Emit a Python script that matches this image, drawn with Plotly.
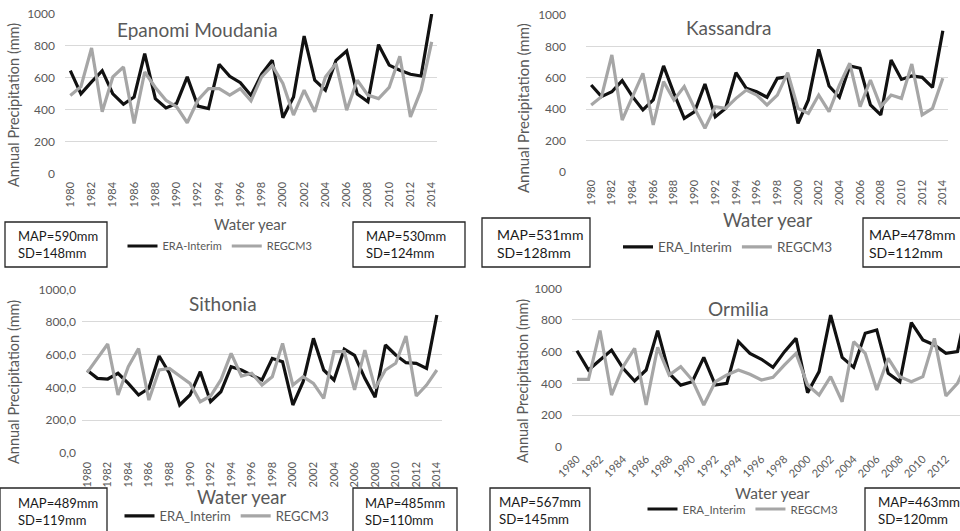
import plotly.graph_objects as go

W, H = 960, 531

years = list(range(1980, 2015))

epanomi_era = [645, 500, 575, 645, 500, 435, 480, 752, 470, 412, 440, 606, 423, 408, 685, 610, 570, 490, 623, 710,
               350, 480, 862, 585, 523, 710, 768, 498, 450, 808, 680, 648, 623, 612, 1000]
epanomi_reg = [490, 545, 787, 388, 606, 668, 315, 637, 540, 460, 419, 319, 460, 533, 533, 492, 533, 456, 606, 677,
               565, 367, 523, 388, 606, 690, 398, 585, 492, 470, 540, 735, 356, 523, 825]

kassandra_era = [553, 479, 510, 581, 479, 394, 458, 675, 500, 340, 383, 560, 351, 404, 632, 532, 510, 475, 596, 606,
                 309, 458, 781, 547, 475, 675, 660, 426, 362, 713, 589, 611, 602, 538, 900]
kassandra_reg = [426, 479, 745, 330, 479, 628, 298, 575, 458, 543, 404, 277, 415, 404, 468, 521, 489, 426, 489, 632,
                 404, 372, 489, 383, 553, 692, 415, 585, 415, 489, 468, 687, 362, 404, 596]

sithonia_era = [505, 455, 451, 486, 424, 353, 394, 592, 486, 292, 353, 496, 312, 373, 526, 506, 475, 445, 577, 557,
                292, 435, 700, 506, 445, 634, 596, 455, 339, 659, 598, 551, 547, 516, 843]
sithonia_reg = [490, 577, 665, 353, 526, 638, 322, 506, 516, 469, 424, 312, 347, 445, 608, 469, 486, 414, 465, 669,
                414, 465, 424, 333, 618, 618, 384, 628, 394, 506, 547, 714, 347, 414, 506]

ormilia_era = [606, 484, 547, 610, 495, 415, 484, 733, 463, 389, 410, 564, 389, 400, 663, 589, 552, 501, 600, 684,
               341, 474, 831, 564, 501, 716, 737, 463, 410, 783, 674, 642, 589, 600, 940]
ormilia_reg = [425, 425, 733, 326, 505, 621, 263, 627, 453, 505, 421, 263, 410, 453, 484, 457, 421, 438, 516, 589,
               389, 326, 442, 284, 663, 589, 358, 558, 442, 410, 442, 684, 320, 400, 560]

panel_titles = ["Epanomi Moudania", "Kassandra", "Sithonia", "Ormilia"]
era_names = ["ERA-Interim", "ERA_Interim", "ERA_Interim", "ERA_Interim"]
reg_name = "REGCM3"
era_stats = ["MAP=590mm<br>SD=148mm", "MAP=531mm<br>SD=128mm", "MAP=489mm<br>SD=119mm", "MAP=567mm<br>SD=145mm"]
reg_stats = ["MAP=530mm<br>SD=124mm", "MAP=478mm<br>SD=112mm", "MAP=485mm<br>SD=110mm", "MAP=463mm<br>SD=120mm"]

y_tickvals = [0, 200, 400, 600, 800, 1000]
y_ticktext_int = ["0", "200", "400", "600", "800", "1000"]
y_ticktext_dec = ["0,0", "200,0", "400,0", "600,0", "800,0", "1000,0"]
x_tickvals = list(range(1980, 2015, 2))

y_title = "Annual Precipitation (mm)"
x_title = "Water year"

era_data = [epanomi_era, kassandra_era, sithonia_era, ormilia_era]
reg_data = [epanomi_reg, kassandra_reg, sithonia_reg, ormilia_reg]

BLACK = "#111111"
GRAY = "#a6a6a6"
TXT = "#595959"
FONT = "Lato"


def px_x(x):
    return x / W


def px_y(y):
    return 1 - y / H


# layout geometry (pixels): plot-area left/right/top/bottom
geo = [
    dict(l=65, r=437, t=14, b=173.7, xr=[1979.5, 2014.5], tickangle=-90, ytt=y_ticktext_int,
         ystand=9, xstand=5),
    dict(l=586, r=948, t=15, b=171.7, xr=[1979.5, 2014.5], tickangle=-90, ytt=y_ticktext_int,
         ystand=19, xstand=5),
    dict(l=82, r=442, t=289.3, b=452.7, xr=[1979.5, 2014.5], tickangle=-90, ytt=y_ticktext_dec,
         ystand=5, xstand=6),
    dict(l=572, r=960, t=288.3, b=446.7, xr=[1979.57, 2013.22], tickangle=-45, ytt=y_ticktext_int,
         ystand=9, xstand=3),
]

fig = go.Figure()
legend_ids = ["legend", "legend2", "legend3", "legend4"]
for i in range(4):
    ax = "" if i == 0 else str(i + 1)
    fig.add_trace(go.Scatter(x=years, y=era_data[i], mode="lines", name=era_names[i],
                             line=dict(color=BLACK, width=3.2), xaxis="x" + ax, yaxis="y" + ax,
                             legend=legend_ids[i], cliponaxis=True))
    fig.add_trace(go.Scatter(x=years, y=reg_data[i], mode="lines", name=reg_name,
                             line=dict(color=GRAY, width=3.2), xaxis="x" + ax, yaxis="y" + ax,
                             legend=legend_ids[i], cliponaxis=True))

layout = dict(width=W, height=H, margin=dict(l=0, r=0, t=0, b=0, autoexpand=False),
              paper_bgcolor="white", plot_bgcolor="white",
              font=dict(family=FONT, color=TXT))

for i, g in enumerate(geo):
    ax = "" if i == 0 else str(i + 1)
    layout["xaxis" + ax] = dict(domain=[px_x(g["l"]), min(1.0, px_x(g["r"]))], range=g["xr"],
                                anchor="y" + ax, tickvals=x_tickvals, tickangle=g["tickangle"],
                                showgrid=False, zeroline=False, showline=False, ticks="",
                                ticklabelstandoff=g["xstand"], automargin=False,
                                tickfont=dict(family=FONT, size=11, color=TXT), fixedrange=True)
    layout["yaxis" + ax] = dict(domain=[px_y(g["b"]), px_y(g["t"])], range=[0, 1000],
                                anchor="x" + ax, tickvals=y_tickvals, ticktext=g["ytt"],
                                showgrid=True, gridcolor="#d9d9d9", gridwidth=1.3, zeroline=False,
                                showline=False, ticks="", ticklabelstandoff=g["ystand"], automargin=False,
                                tickfont=dict(family=FONT, size=12, color=TXT), fixedrange=True)

legend_pos = [(220, 246, 11), (728, 247, 13.5), (227, 516, 13), (743, 509, 11.5)]
for i, (cx, cy, fs) in enumerate(legend_pos):
    layout[legend_ids[i]] = dict(x=px_x(cx), y=px_y(cy), xanchor="center", yanchor="middle",
                                 orientation="h", bgcolor="rgba(0,0,0,0)", itemwidth=30,
                                 font=dict(family=FONT, size=fs, color=TXT),
                                 tracegroupgap=0, itemclick=False)

fig.update_layout(**layout)

annotations = []
# panel titles
title_pos = [(197, 29), (728, 28), (223, 303), (738, 308)]
for t, (x, y) in zip(panel_titles, title_pos):
    annotations.append(dict(text=t, x=px_x(x), y=px_y(y), xref="paper", yref="paper",
                            xanchor="center", yanchor="middle", showarrow=False,
                            font=dict(family=FONT, size=19, color=TXT)))
# y titles
ytitle_pos = [(13, 105, 14.5), (523, 108, 15), (13, 382, 14.5), (522, 381, 14.5)]
for (x, y, fs) in ytitle_pos:
    annotations.append(dict(text=y_title, x=px_x(x), y=px_y(y), xref="paper", yref="paper",
                            xanchor="center", yanchor="middle", textangle=-90, showarrow=False,
                            font=dict(family=FONT, size=fs, color=TXT)))
# x titles
xtitle_pos = [(250, 224, 15), (767, 220, 18.5), (241, 497, 18.5), (772, 493, 15.5)]
for (x, y, fs) in xtitle_pos:
    annotations.append(dict(text=x_title, x=px_x(x), y=px_y(y), xref="paper", yref="paper",
                            xanchor="center", yanchor="middle", showarrow=False,
                            font=dict(family=FONT, size=fs, color=TXT)))

# stat boxes (left = ERA, right = REGCM3): x0, x1, y0, y1, text-left, text-centre-y, font size
boxes = [
    (5, 107, 222, 267, 16, 244, 13, era_stats[0]), (353, 465, 222, 267, 364, 244, 13, reg_stats[0]),
    (482, 590, 218, 267, 495, 243, 14, era_stats[1]), (863, 968, 218, 267, 867, 243, 14, reg_stats[1]),
    (0, 107, 488, 540, 16, 511, 13, era_stats[2]), (353, 457, 488, 540, 363, 511, 13, reg_stats[2]),
    (490, 590, 488, 540, 497, 510, 13.3, era_stats[3]), (865, 970, 488, 540, 876, 510, 13.3, reg_stats[3]),
]
shapes = []
for (x0, x1, y0, y1, tx, ty, fs, txt) in boxes:
    shapes.append(dict(type="rect", xref="paper", yref="paper", x0=px_x(x0), x1=px_x(x1),
                       y0=px_y(y1), y1=px_y(y0), line=dict(color="#262626", width=1.3),
                       fillcolor="white", layer="above"))
    annotations.append(dict(text=txt, x=px_x(tx), y=px_y(ty), xref="paper", yref="paper",
                            xanchor="left", yanchor="middle", align="left", showarrow=False,
                            font=dict(family=FONT, size=fs, color="#1a1a1a")))

fig.update_layout(annotations=annotations, shapes=shapes)
fig.write_html("out.html")
